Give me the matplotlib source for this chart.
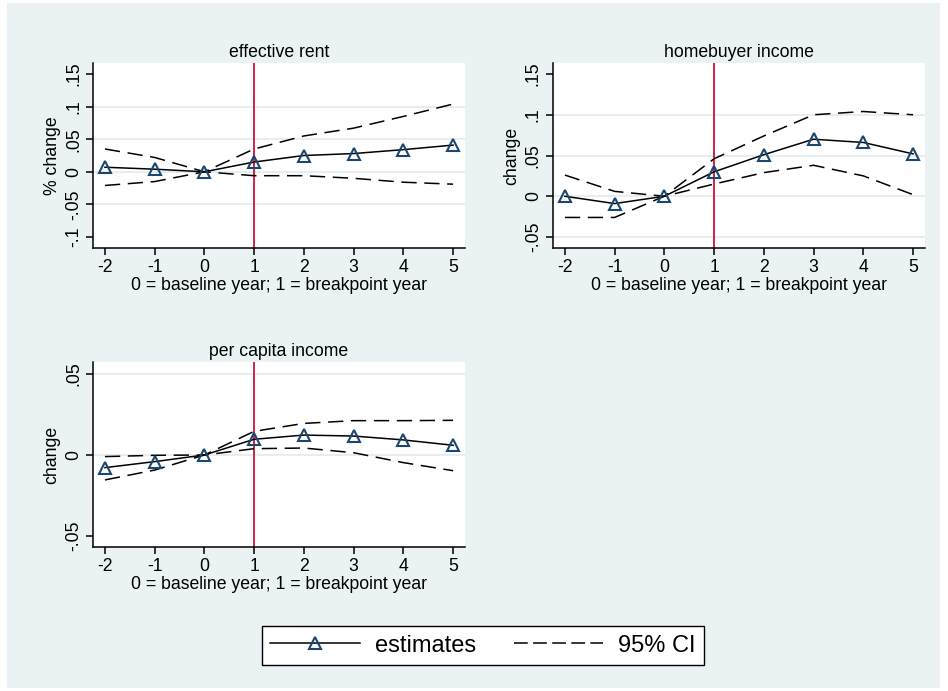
import matplotlib
matplotlib.use("Agg")
import matplotlib.pyplot as plt
from matplotlib.lines import Line2D
from matplotlib.patches import Rectangle

plt.rcParams['font.family'] = ['Liberation Sans', 'DejaVu Sans']

years = [-2, -1, 0, 1, 2, 3, 4, 5]

# effective rent
rent_est = [0.007, 0.004, 0.0, 0.015, 0.025, 0.028, 0.034, 0.041]
rent_hi = [0.035, 0.022, 0.0, 0.035, 0.055, 0.067, 0.085, 0.104]
rent_lo = [-0.021, -0.015, 0.0, -0.006, -0.006, -0.010, -0.016, -0.019]

# homebuyer income
buyer_est = [0.0, -0.009, 0.0, 0.030, 0.051, 0.070, 0.066, 0.052]
buyer_hi = [0.026, 0.006, 0.0, 0.046, 0.074, 0.100, 0.104, 0.100]
buyer_lo = [-0.026, -0.026, 0.0, 0.015, 0.029, 0.038, 0.025, 0.002]

# per capita income
pci_est = [-0.0078, -0.0041, 0.0, 0.0097, 0.0123, 0.0117, 0.0093, 0.0060]
pci_hi = [-0.0010, -0.0002, 0.0, 0.0146, 0.0195, 0.0212, 0.0212, 0.0214]
pci_lo = [-0.0154, -0.0093, 0.0, 0.0039, 0.0043, 0.0014, -0.0047, -0.0097]

panels = [
    dict(title="effective rent", ylabel="% change", est=rent_est, hi=rent_hi, lo=rent_lo,
         yticks=[-0.1, -0.05, 0, 0.05, 0.1, 0.15],
         ylabels=["-.1", "-.05", "0", ".05", ".1", ".15"],
         grid=[-0.05, 0, 0.05, 0.1], ylim=(-0.117, 0.167),
         rect=[0.0981, 0.6411, 0.3924, 0.2677]),
    dict(title="homebuyer income", ylabel="change", est=buyer_est, hi=buyer_hi, lo=buyer_lo,
         yticks=[-0.05, 0, 0.05, 0.1, 0.15],
         ylabels=["-.05", "0", ".05", ".1", ".15"],
         grid=[-0.05, 0, 0.05, 0.1], ylim=(-0.0635, 0.1635),
         rect=[0.5833, 0.6411, 0.3924, 0.2677]),
    dict(title="per capita income", ylabel="change", est=pci_est, hi=pci_hi, lo=pci_lo,
         yticks=[-0.05, 0, 0.05],
         ylabels=["-.05", "0", ".05"],
         grid=[0, 0.05], ylim=(-0.0568, 0.0574),
         rect=[0.0981, 0.2084, 0.3924, 0.2677]),
]

bg = '#EAF2F3'
navy = '#1A476F'
red = '#D0103A'
fs = 12.7
dash = (0, (10, 5))

fig = plt.figure(figsize=(9.48, 6.91), dpi=100, facecolor='white')
fig.patches.append(Rectangle((7 / 948, 3 / 691), 933 / 948, 685 / 691,
                             transform=fig.transFigure, facecolor=bg,
                             edgecolor='none', zorder=-10))

for p in panels:
    ax = fig.add_axes(p['rect'])
    ax.set_facecolor('white')
    for g in p['grid']:
        ax.axhline(g, color='#E2EBEE', lw=1.2, zorder=1)
    ax.axvline(1, color=red, lw=1.3, zorder=2)
    ax.plot(years, p['hi'], color='black', lw=1.1, linestyle=dash, zorder=3)
    ax.plot(years, p['lo'], color='black', lw=1.1, linestyle=dash, zorder=3)
    ax.plot(years, p['est'], color='black', lw=1.1, marker='^', markersize=8.5,
            markerfacecolor='none', markeredgecolor=navy, markeredgewidth=1.5, zorder=4)
    ax.set_xlim(-2.24, 5.24)
    ax.set_ylim(*p['ylim'])
    ax.set_xticks(years)
    ax.set_xticklabels([str(y) for y in years], fontsize=fs)
    ax.set_yticks(p['yticks'])
    ax.set_yticklabels(p['ylabels'], fontsize=fs, rotation=90, va='center')
    ax.set_title(p['title'], fontsize=fs, pad=4)
    ax.set_xlabel("0 = baseline year; 1 = breakpoint year", fontsize=fs, labelpad=1)
    ax.set_ylabel(p['ylabel'], fontsize=fs, labelpad=3)
    ax.spines['top'].set_visible(False)
    ax.spines['right'].set_visible(False)
    ax.spines['left'].set_linewidth(1.1)
    ax.spines['bottom'].set_linewidth(1.1)
    ax.tick_params(direction='out', length=5, width=1.1, pad=3)

handles = [
    Line2D([], [], color='black', lw=1.1, marker='^', markersize=8.5,
           markerfacecolor='none', markeredgecolor=navy, markeredgewidth=1.5),
    Line2D([], [], color='black', lw=1.1, linestyle=(0, (9, 3.5))),
]
leg = fig.legend(handles, ["estimates", "95% CI"], loc='center',
                 bbox_to_anchor=(0.5095, 0.0658), ncol=2, fontsize=17,
                 frameon=True, fancybox=False, edgecolor='black',
                 handlelength=3.8, handletextpad=0.63, columnspacing=1.6,
                 borderpad=0.35, markerfirst=True)
leg.get_frame().set_linewidth(1.0)
leg.get_frame().set_facecolor('white')
leg.get_frame().set_alpha(1)

fig.savefig("out.png", dpi=100, facecolor=fig.get_facecolor())
